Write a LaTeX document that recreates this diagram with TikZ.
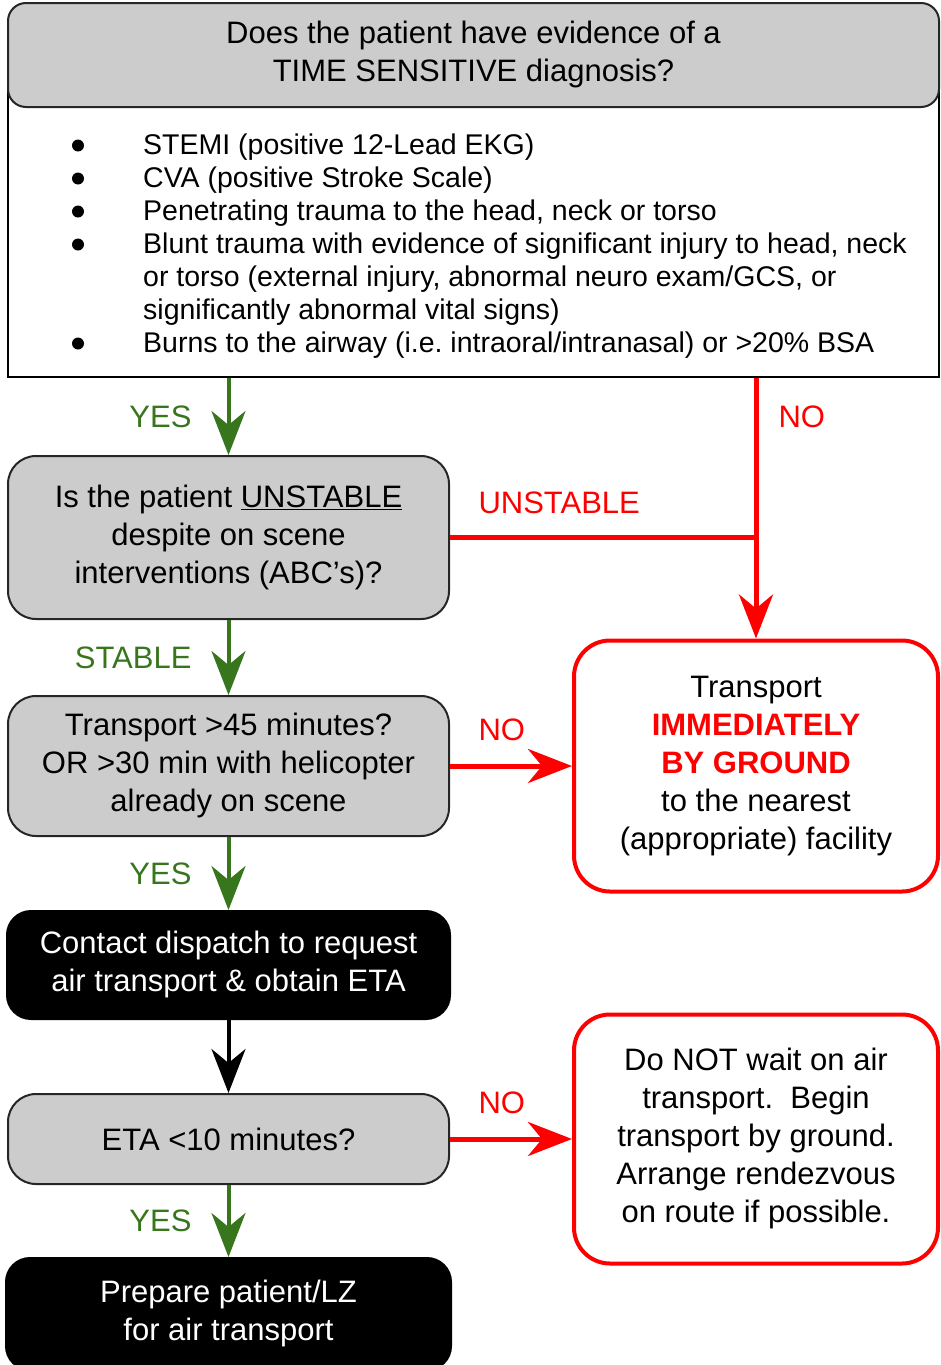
\documentclass[tikz,border=0pt]{standalone}
\usepackage{fontspec}
\setmainfont{Liberation Sans}
\usepackage{tikz}
\usetikzlibrary{arrows.meta, positioning}
\definecolor{boxgray}{RGB}{204, 204, 204}
\definecolor{yesgreen}{RGB}{56, 118, 29}
\definecolor{nored}{RGB}{255, 0, 0}
\newcommand{\boxfont}{\fontsize{31}{38}\selectfont}
\newcommand{\listfont}{\fontsize{28.5}{33}\selectfont}
\newcommand{\topstrut}{\rule[-0.212em]{0pt}{1.19em}}
\newcommand{\botstrut}{\rule[-0.212em]{0pt}{1.117em}}
\frenchspacing

\begin{document}
\begin{tikzpicture}[x=1pt, y=1pt, font=\boxfont,
        boxtext/.style={align=center, inner sep=0pt, execute at begin node=\topstrut, execute at end node=\botstrut},
        header/.style={boxtext, draw=black!85, line width=2pt, fill=boxgray, rounded corners=18pt, minimum width=931pt, minimum height=104pt},
        question/.style={boxtext, draw=black!85, line width=2pt, fill=boxgray, rounded corners=28pt, minimum width=441pt},
        action/.style={boxtext, draw=black, line width=2pt, fill=black, text=white, rounded corners=24pt, minimum width=443pt},
        outcome/.style={boxtext, draw=nored, line width=4pt, fill=white, rounded corners=36pt, minimum width=364pt},
        tip/.style={-{Stealth[length=44pt, width=34pt, inset=14pt]}},
        yesline/.style={tip, line width=4pt, draw=yesgreen},
        noline/.style={line width=5pt, draw=nored},
        plainline/.style={tip, line width=4pt, draw=black},
        yeslab/.style={text=yesgreen, inner sep=0pt, left=35pt},
        nolab/.style={text=nored, inner sep=0pt}]
        \useasboundingbox (0,0) rectangle (941,-1365);

        \node[draw=black, line width=2pt, fill=white, minimum width=931pt, minimum height=326pt, inner sep=0pt] (crit) at (473.5,-214) {};
        \node[header] (diag) at (473.5,-55) {Does the patient have evidence of a\\TIME SENSITIVE diagnosis?};
        \node[anchor=north west, align=left, font=\listfont, inner sep=0pt] (critlist) at (143,-133.5) {%
            STEMI (positive 12-Lead EKG)\\
            CVA (positive Stroke Scale)\\
            Penetrating trauma to the head, neck or torso\\
            Blunt trauma with evidence of significant injury to head, neck\\
            or torso (external injury, abnormal neuro exam/GCS, or\\
            significantly abnormal vital signs)\\
            Burns to the airway (i.e. intraoral/intranasal) or >20\% BSA};
        \foreach \y in {145.5, 178.5, 211.5, 244.5, 343.5}
            \fill (78,-\y) circle (6pt);

        \node[question, minimum height=163pt] (unstable) at (228.5,-537.5) {Is the patient \underline{UNSTABLE}\\despite on scene\\interventions (ABC’s)?};
        \node[question, minimum height=140pt, below=75pt of unstable] (transport) {Transport >45 minutes?\\OR >30 min with helicopter\\already on scene};
        \node[action, minimum height=108pt, below=73pt of transport] (contact) {Contact dispatch to request\\air transport \& obtain ETA};
        \node[question, minimum height=90pt, below=73pt of contact] (eta) {ETA <10 minutes?};
        \node[action, minimum width=445pt, minimum height=112pt, below=72pt of eta] (prepare) {Prepare patient/LZ\\for air transport};

        \node[outcome, minimum height=251pt, right=122pt of transport] (ground) {Transport\\\textcolor{nored}{\textbf{IMMEDIATELY}}\\\textcolor{nored}{\textbf{BY GROUND}}\\to the nearest\\(appropriate) facility};
        \node[outcome, minimum height=249pt, right=122pt of eta] (wait) {Do NOT wait on air\\transport.~ Begin\\transport by ground.\\Arrange rendezvous\\on route if possible.};

        \draw[yesline] (crit.south -| unstable.north) -- node[yeslab]{YES} (unstable.north);
        \draw[yesline] (unstable) -- node[yeslab]{STABLE} (transport);
        \draw[yesline] (transport) -- node[yeslab]{YES} (contact);
        \draw[plainline] (contact) -- (eta);
        \draw[yesline] (eta) -- node[yeslab]{YES} (prepare);

        \draw[noline, tip] (crit.south -| ground.north) -- node[nolab, pos=0.15, right=20pt]{NO} (ground.north);
        \draw[noline] (unstable.east) -- node[nolab, at start, anchor=south west, xshift=26pt, yshift=21pt]{UNSTABLE} (unstable.east -| ground.north);
        \draw[noline, tip] (transport.east) -- node[nolab, at start, anchor=south west, xshift=26pt, yshift=23pt]{NO} (transport.east -| ground.west);
        \draw[noline, tip] (eta.east) -- node[nolab, at start, anchor=south west, xshift=26pt, yshift=23pt]{NO} (eta.east -| wait.west);
    \end{tikzpicture}
\end{document}
